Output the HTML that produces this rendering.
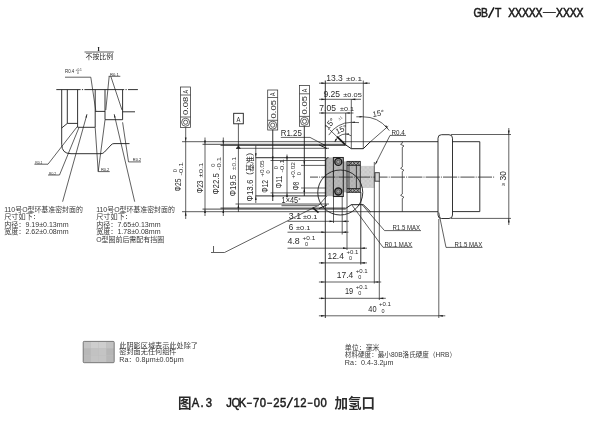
<!DOCTYPE html><html><head><meta charset="utf-8"><title>GB/T</title><style>html,body{margin:0;padding:0;background:#fff;}body{width:600px;height:440px;overflow:hidden;font-family:"Liberation Sans",sans-serif;}svg{display:block;will-change:transform;opacity:0.999;filter:blur(0.3px);}</style></head><body><svg width="600" height="440" viewBox="0 0 600 440"><defs><pattern id="grid" width="4.5" height="4.5" patternUnits="userSpaceOnUse"><rect width="4.5" height="4.5" fill="#b9b9b9"/><rect x="0" y="0" width="2.25" height="2.25" fill="#adadad"/><rect x="2.25" y="2.25" width="2.25" height="2.25" fill="#b1b1b1"/></pattern><pattern id="grid2" width="4.5" height="4.5" patternUnits="userSpaceOnUse"><rect width="4.5" height="4.5" fill="#d2d2d2"/><rect x="0" y="0" width="2.25" height="2.25" fill="#c6c6c6"/><rect x="2.25" y="2.25" width="2.25" height="2.25" fill="#cacaca"/></pattern><pattern id="grid3" width="7.9" height="7.5" patternUnits="userSpaceOnUse"><rect width="7.9" height="7.5" fill="#bdbdbd"/><rect x="0" y="0" width="3.95" height="3.75" fill="#b0b0b0"/><rect x="3.95" y="3.75" width="3.95" height="3.75" fill="#b4b4b4"/></pattern></defs><text transform="translate(477.62 16.7) scale(0.82 1)" text-anchor="middle" font-family="'Liberation Sans', sans-serif" font-size="12.7" font-weight="normal" fill="#1c1c1c" stroke="#1c1c1c" stroke-width="0.6">G</text><text transform="translate(484.44 16.7) scale(0.82 1)" text-anchor="middle" font-family="'Liberation Sans', sans-serif" font-size="12.7" font-weight="normal" fill="#1c1c1c" stroke="#1c1c1c" stroke-width="0.6">B</text><line x1="488.56" y1="17.9" x2="493.99" y2="7.3" stroke="#1c1c1c" stroke-width="1.6"/><text transform="translate(498.1 16.7) scale(0.82 1)" text-anchor="middle" font-family="'Liberation Sans', sans-serif" font-size="12.7" font-weight="normal" fill="#1c1c1c" stroke="#1c1c1c" stroke-width="0.6">T</text><text transform="translate(511.76 16.7) scale(0.82 1)" text-anchor="middle" font-family="'Liberation Sans', sans-serif" font-size="12.7" font-weight="normal" fill="#1c1c1c" stroke="#1c1c1c" stroke-width="0.6">X</text><text transform="translate(518.59 16.7) scale(0.82 1)" text-anchor="middle" font-family="'Liberation Sans', sans-serif" font-size="12.7" font-weight="normal" fill="#1c1c1c" stroke="#1c1c1c" stroke-width="0.6">X</text><text transform="translate(525.42 16.7) scale(0.82 1)" text-anchor="middle" font-family="'Liberation Sans', sans-serif" font-size="12.7" font-weight="normal" fill="#1c1c1c" stroke="#1c1c1c" stroke-width="0.6">X</text><text transform="translate(532.25 16.7) scale(0.82 1)" text-anchor="middle" font-family="'Liberation Sans', sans-serif" font-size="12.7" font-weight="normal" fill="#1c1c1c" stroke="#1c1c1c" stroke-width="0.6">X</text><text transform="translate(539.09 16.7) scale(0.82 1)" text-anchor="middle" font-family="'Liberation Sans', sans-serif" font-size="12.7" font-weight="normal" fill="#1c1c1c" stroke="#1c1c1c" stroke-width="0.6">X</text><line x1="542.8" y1="12.51" x2="555.86" y2="12.51" stroke="#1c1c1c" stroke-width="0.9"/><text transform="translate(559.58 16.7) scale(0.82 1)" text-anchor="middle" font-family="'Liberation Sans', sans-serif" font-size="12.7" font-weight="normal" fill="#1c1c1c" stroke="#1c1c1c" stroke-width="0.6">X</text><text transform="translate(566.41 16.7) scale(0.82 1)" text-anchor="middle" font-family="'Liberation Sans', sans-serif" font-size="12.7" font-weight="normal" fill="#1c1c1c" stroke="#1c1c1c" stroke-width="0.6">X</text><text transform="translate(573.24 16.7) scale(0.82 1)" text-anchor="middle" font-family="'Liberation Sans', sans-serif" font-size="12.7" font-weight="normal" fill="#1c1c1c" stroke="#1c1c1c" stroke-width="0.6">X</text><text transform="translate(580.07 16.7) scale(0.82 1)" text-anchor="middle" font-family="'Liberation Sans', sans-serif" font-size="12.7" font-weight="normal" fill="#1c1c1c" stroke="#1c1c1c" stroke-width="0.6">X</text>
<text x="177.9" y="407.6" font-family="'Liberation Sans', 'Noto Sans CJK SC', sans-serif" font-size="13.5" font-weight="bold" fill="#2a2a2a">图</text>
<text transform="translate(195.38 406.7) scale(0.88 1)" text-anchor="middle" font-family="'Liberation Sans', sans-serif" font-size="12.8" font-weight="normal" fill="#1c1c1c" stroke="#1c1c1c" stroke-width="0.5">A</text><text transform="translate(202.12 406.7) scale(0.88 1)" text-anchor="middle" font-family="'Liberation Sans', sans-serif" font-size="12.8" font-weight="normal" fill="#1c1c1c" stroke="#1c1c1c" stroke-width="0.5">.</text><text transform="translate(208.88 406.7) scale(0.88 1)" text-anchor="middle" font-family="'Liberation Sans', sans-serif" font-size="12.8" font-weight="normal" fill="#1c1c1c" stroke="#1c1c1c" stroke-width="0.5">3</text>
<text transform="translate(229.12 406.7) scale(0.88 1)" text-anchor="middle" font-family="'Liberation Sans', sans-serif" font-size="12.8" font-weight="normal" fill="#1c1c1c" stroke="#1c1c1c" stroke-width="0.5">J</text><text transform="translate(235.88 406.7) scale(0.88 1)" text-anchor="middle" font-family="'Liberation Sans', sans-serif" font-size="12.8" font-weight="normal" fill="#1c1c1c" stroke="#1c1c1c" stroke-width="0.5">Q</text><text transform="translate(242.62 406.7) scale(0.88 1)" text-anchor="middle" font-family="'Liberation Sans', sans-serif" font-size="12.8" font-weight="normal" fill="#1c1c1c" stroke="#1c1c1c" stroke-width="0.5">K</text><line x1="246.9" y1="403.24" x2="251.85" y2="403.24" stroke="#1c1c1c" stroke-width="1.3"/><text transform="translate(256.12 406.7) scale(0.88 1)" text-anchor="middle" font-family="'Liberation Sans', sans-serif" font-size="12.8" font-weight="normal" fill="#1c1c1c" stroke="#1c1c1c" stroke-width="0.5">7</text><text transform="translate(262.88 406.7) scale(0.88 1)" text-anchor="middle" font-family="'Liberation Sans', sans-serif" font-size="12.8" font-weight="normal" fill="#1c1c1c" stroke="#1c1c1c" stroke-width="0.5">0</text><line x1="267.15" y1="403.24" x2="272.1" y2="403.24" stroke="#1c1c1c" stroke-width="1.3"/><text transform="translate(276.38 406.7) scale(0.88 1)" text-anchor="middle" font-family="'Liberation Sans', sans-serif" font-size="12.8" font-weight="normal" fill="#1c1c1c" stroke="#1c1c1c" stroke-width="0.5">2</text><text transform="translate(283.12 406.7) scale(0.88 1)" text-anchor="middle" font-family="'Liberation Sans', sans-serif" font-size="12.8" font-weight="normal" fill="#1c1c1c" stroke="#1c1c1c" stroke-width="0.5">5</text><line x1="287.2" y1="407.9" x2="292.55" y2="397.23" stroke="#1c1c1c" stroke-width="1.5"/><text transform="translate(296.62 406.7) scale(0.88 1)" text-anchor="middle" font-family="'Liberation Sans', sans-serif" font-size="12.8" font-weight="normal" fill="#1c1c1c" stroke="#1c1c1c" stroke-width="0.5">1</text><text transform="translate(303.38 406.7) scale(0.88 1)" text-anchor="middle" font-family="'Liberation Sans', sans-serif" font-size="12.8" font-weight="normal" fill="#1c1c1c" stroke="#1c1c1c" stroke-width="0.5">2</text><line x1="307.65" y1="403.24" x2="312.6" y2="403.24" stroke="#1c1c1c" stroke-width="1.3"/><text transform="translate(316.88 406.7) scale(0.88 1)" text-anchor="middle" font-family="'Liberation Sans', sans-serif" font-size="12.8" font-weight="normal" fill="#1c1c1c" stroke="#1c1c1c" stroke-width="0.5">0</text><text transform="translate(323.62 406.7) scale(0.88 1)" text-anchor="middle" font-family="'Liberation Sans', sans-serif" font-size="12.8" font-weight="normal" fill="#1c1c1c" stroke="#1c1c1c" stroke-width="0.5">0</text>
<text x="334.55" y="407.6" font-family="'Liberation Sans', 'Noto Sans CJK SC', sans-serif" font-size="13.5" font-weight="bold" fill="#2a2a2a" textLength="40.5" lengthAdjust="spacingAndGlyphs">加氢口</text>
<text x="97.2" y="51.3" font-family="'Liberation Serif', sans-serif" font-size="6.8" font-weight="bold" fill="#1c1c1c" xml:space="preserve">I</text>
<line x1="84.5" y1="52" x2="113.75" y2="52" stroke="#1c1c1c" stroke-width="0.7"/>
<text x="85.5" y="59.3" font-family="'Liberation Sans', 'Noto Sans CJK SC', sans-serif" font-size="6.9" fill="#2a2a2a" textLength="27.6" lengthAdjust="spacingAndGlyphs">不按比例</text>
<line x1="56.3" y1="89.6" x2="80.6" y2="89.6" stroke="#1c1c1c" stroke-width="0.9"/>
<line x1="81.9" y1="89.6" x2="83.1" y2="89.6" stroke="#1c1c1c" stroke-width="0.9"/>
<line x1="84.4" y1="89.6" x2="124.2" y2="89.6" stroke="#1c1c1c" stroke-width="0.9"/>
<line x1="125.5" y1="89.6" x2="126.7" y2="89.6" stroke="#1c1c1c" stroke-width="0.9"/>
<line x1="128" y1="89.6" x2="137.9" y2="89.6" stroke="#1c1c1c" stroke-width="0.9"/>
<line x1="61.7" y1="89.7" x2="61.7" y2="144.3" stroke="#1c1c1c" stroke-width="0.9"/>
<path d="M61.7 144.3 Q61.7 153.7 71 153.7 L101 153.7 Q103 153.7 104.5 152 L111 145 Q112.3 143.6 114 143.6 L129.5 143.6" fill="none" stroke="#1c1c1c" stroke-width="0.9"/>
<line x1="67.3" y1="89.7" x2="67.3" y2="123.4" stroke="#1c1c1c" stroke-width="0.9"/>
<line x1="67.3" y1="123.4" x2="77.6" y2="123.4" stroke="#1c1c1c" stroke-width="0.9"/>
<line x1="61.7" y1="128" x2="67.3" y2="123.4" stroke="#1c1c1c" stroke-width="0.9"/>
<line x1="77.6" y1="89.7" x2="77.6" y2="127.3" stroke="#1c1c1c" stroke-width="0.9"/>
<line x1="77.6" y1="127.3" x2="95.2" y2="127.3" stroke="#1c1c1c" stroke-width="0.9"/>
<line x1="95.2" y1="89.7" x2="95.2" y2="127.3" stroke="#1c1c1c" stroke-width="0.9"/>
<line x1="95.2" y1="111.4" x2="105" y2="111.4" stroke="#1c1c1c" stroke-width="0.9"/>
<line x1="105" y1="89.7" x2="105" y2="119.7" stroke="#1c1c1c" stroke-width="0.9"/>
<line x1="105" y1="119.7" x2="122.6" y2="119.7" stroke="#1c1c1c" stroke-width="0.9"/>
<line x1="122.6" y1="89.7" x2="122.6" y2="119.7" stroke="#1c1c1c" stroke-width="0.9"/>
<line x1="122.6" y1="111.8" x2="135" y2="111.8" stroke="#1c1c1c" stroke-width="0.9"/>
<text x="65" y="73.3" font-family="'Liberation Sans', sans-serif" font-size="4.6" fill="#2a2a2a" textLength="9.3" lengthAdjust="spacingAndGlyphs">R0.4</text>
<text x="75.5" y="71.3" font-family="'Liberation Sans', sans-serif" font-size="3.2" fill="#2a2a2a" textLength="6.4" lengthAdjust="spacingAndGlyphs">+0.1</text>
<text x="77" y="74.2" font-family="'Liberation Sans', sans-serif" font-size="3.2" fill="#2a2a2a">0</text>
<line x1="65" y1="77.2" x2="90.8" y2="77.2" stroke="#1c1c1c" stroke-width="0.7"/>
<line x1="90.8" y1="77.2" x2="95.8" y2="110.8" stroke="#1c1c1c" stroke-width="0.7"/>
<text x="110" y="75.8" font-family="'Liberation Sans', sans-serif" font-size="4.4" fill="#2a2a2a" textLength="8.8" lengthAdjust="spacingAndGlyphs">R0.1</text>
<line x1="108.7" y1="76.3" x2="120.3" y2="76.3" stroke="#1c1c1c" stroke-width="0.7"/>
<line x1="109.2" y1="76.3" x2="105.8" y2="110" stroke="#1c1c1c" stroke-width="0.7"/>
<line x1="110.8" y1="76.3" x2="122" y2="110" stroke="#1c1c1c" stroke-width="0.7"/>
<line x1="62.6" y1="201.7" x2="87" y2="114.2" stroke="#1c1c1c" stroke-width="0.7"/>
<path d="M87 114.2 L86.71 117.65 L85.46 117.3 Z" fill="#1c1c1c"/>
<line x1="134.7" y1="201.7" x2="114.2" y2="114.2" stroke="#1c1c1c" stroke-width="0.7"/>
<path d="M114.2 114.2 L115.61 117.36 L114.34 117.66 Z" fill="#1c1c1c"/>
<text x="35.3" y="163.7" font-family="'Liberation Sans', sans-serif" font-size="3.6" fill="#2a2a2a" textLength="7.2" lengthAdjust="spacingAndGlyphs">R0.1</text>
<line x1="34.4" y1="164.2" x2="48" y2="164.2" stroke="#1c1c1c" stroke-width="0.7"/>
<line x1="48" y1="164.2" x2="77.3" y2="126.5" stroke="#1c1c1c" stroke-width="0.7"/>
<text x="49" y="174.6" font-family="'Liberation Sans', sans-serif" font-size="3.6" fill="#2a2a2a" textLength="7.2" lengthAdjust="spacingAndGlyphs">R0.2</text>
<line x1="48" y1="175" x2="59.5" y2="175" stroke="#1c1c1c" stroke-width="0.7"/>
<line x1="59.5" y1="175" x2="79" y2="127.5" stroke="#1c1c1c" stroke-width="0.7"/>
<text x="100.9" y="171.2" font-family="'Liberation Sans', sans-serif" font-size="4.2" fill="#2a2a2a" textLength="8.4" lengthAdjust="spacingAndGlyphs">R0.2</text>
<line x1="98.2" y1="171.6" x2="109.7" y2="171.6" stroke="#1c1c1c" stroke-width="0.7"/>
<line x1="98.2" y1="171.6" x2="95.2" y2="127.5" stroke="#1c1c1c" stroke-width="0.7"/>
<line x1="98.2" y1="171.6" x2="105" y2="120" stroke="#1c1c1c" stroke-width="0.7"/>
<text x="132.8" y="161.4" font-family="'Liberation Sans', sans-serif" font-size="4.2" fill="#2a2a2a" textLength="8.4" lengthAdjust="spacingAndGlyphs">R0.2</text>
<line x1="128.5" y1="161.9" x2="141" y2="161.9" stroke="#1c1c1c" stroke-width="0.7"/>
<line x1="128.5" y1="161.9" x2="122.6" y2="122.3" stroke="#1c1c1c" stroke-width="0.7"/>
<text x="4.2" y="212.1" font-family="'Liberation Sans', 'Noto Sans CJK SC', sans-serif" font-size="7.15" fill="#383838" textLength="78.65" lengthAdjust="spacingAndGlyphs">110号O型环基准密封面的</text>
<text x="4.2" y="219.45" font-family="'Liberation Sans', 'Noto Sans CJK SC', sans-serif" font-size="7.15" fill="#383838" textLength="35.75" lengthAdjust="spacingAndGlyphs">尺寸如下：</text>
<text x="4.2" y="226.8" font-family="'Liberation Sans', 'Noto Sans CJK SC', sans-serif" font-size="7.15" fill="#383838" textLength="64.35" lengthAdjust="spacingAndGlyphs">内径：9.19±0.13mm</text>
<text x="4.2" y="234.15" font-family="'Liberation Sans', 'Noto Sans CJK SC', sans-serif" font-size="7.15" fill="#383838" textLength="64.35" lengthAdjust="spacingAndGlyphs">宽度：2.62±0.08mm</text>
<text x="96.2" y="212.1" font-family="'Liberation Sans', 'Noto Sans CJK SC', sans-serif" font-size="7.15" fill="#383838" textLength="78.65" lengthAdjust="spacingAndGlyphs">110号O型环基准密封面的</text>
<text x="96.2" y="219.45" font-family="'Liberation Sans', 'Noto Sans CJK SC', sans-serif" font-size="7.15" fill="#383838" textLength="35.75" lengthAdjust="spacingAndGlyphs">尺寸如下：</text>
<text x="96.2" y="226.8" font-family="'Liberation Sans', 'Noto Sans CJK SC', sans-serif" font-size="7.15" fill="#383838" textLength="64.35" lengthAdjust="spacingAndGlyphs">内径：7.65±0.13mm</text>
<text x="96.2" y="234.15" font-family="'Liberation Sans', 'Noto Sans CJK SC', sans-serif" font-size="7.15" fill="#383838" textLength="64.35" lengthAdjust="spacingAndGlyphs">宽度：1.78±0.08mm</text>
<text x="96.2" y="241.5" font-family="'Liberation Sans', 'Noto Sans CJK SC', sans-serif" font-size="7.15" fill="#383838" textLength="67.9" lengthAdjust="spacingAndGlyphs">O型圈前后需配有挡圈</text>
<rect x="83.2" y="341.4" width="31" height="21.3" rx="0" fill="#bebebe" stroke="none" stroke-width="0"/>
<rect x="83.2" y="341.4" width="7.5" height="6.9" rx="0" fill="#c4c4c4" stroke="none" stroke-width="0"/>
<rect x="83.2" y="348.5" width="7.5" height="6.9" rx="0" fill="#b8b8b8" stroke="none" stroke-width="0"/>
<rect x="83.2" y="355.6" width="7.5" height="6.9" rx="0" fill="#bababa" stroke="none" stroke-width="0"/>
<rect x="90.95" y="341.4" width="7.5" height="6.9" rx="0" fill="#cecece" stroke="none" stroke-width="0"/>
<rect x="90.95" y="348.5" width="7.5" height="6.9" rx="0" fill="#c2c2c2" stroke="none" stroke-width="0"/>
<rect x="90.95" y="355.6" width="7.5" height="6.9" rx="0" fill="#c4c4c4" stroke="none" stroke-width="0"/>
<rect x="98.7" y="341.4" width="7.5" height="6.9" rx="0" fill="#cecece" stroke="none" stroke-width="0"/>
<rect x="98.7" y="348.5" width="7.5" height="6.9" rx="0" fill="#c4c4c4" stroke="none" stroke-width="0"/>
<rect x="98.7" y="355.6" width="7.5" height="6.9" rx="0" fill="#c4c4c4" stroke="none" stroke-width="0"/>
<rect x="106.45" y="341.4" width="7.5" height="6.9" rx="0" fill="#c2c2c2" stroke="none" stroke-width="0"/>
<rect x="106.45" y="348.5" width="7.5" height="6.9" rx="0" fill="#b6b6b6" stroke="none" stroke-width="0"/>
<rect x="106.45" y="355.6" width="7.5" height="6.9" rx="0" fill="#b8b8b8" stroke="none" stroke-width="0"/>
<rect x="83.2" y="341.4" width="31" height="21.3" rx="1" fill="none" stroke="#707070" stroke-width="0.9"/>
<text x="119.3" y="347.6" font-family="'Liberation Sans', 'Noto Sans CJK SC', sans-serif" font-size="7.15" fill="#383838" textLength="78.65" lengthAdjust="spacingAndGlyphs">此阴影区域表示此处除了</text>
<text x="119.3" y="353.8" font-family="'Liberation Sans', 'Noto Sans CJK SC', sans-serif" font-size="7.15" fill="#383838" textLength="57.2" lengthAdjust="spacingAndGlyphs">密封面无任何组件</text>
<text x="119.3" y="361.7" font-family="'Liberation Sans', 'Noto Sans CJK SC', sans-serif" font-size="7.15" fill="#383838" textLength="64.35" lengthAdjust="spacingAndGlyphs">Ra：0.8μm±0.05μm</text>
<text x="344.8" y="350.3" font-family="'Liberation Sans', 'Noto Sans CJK SC', sans-serif" font-size="6.95" fill="#383838" textLength="34.75" lengthAdjust="spacingAndGlyphs">单位：毫米</text>
<text x="344.8" y="356.7" font-family="'Liberation Sans', 'Noto Sans CJK SC', sans-serif" font-size="6.95" fill="#383838" textLength="111.2" lengthAdjust="spacingAndGlyphs">材料硬度：最小80B洛氏硬度（HRB）</text>
<text x="344.8" y="364.8" font-family="'Liberation Sans', 'Noto Sans CJK SC', sans-serif" font-size="6.95" fill="#383838" textLength="48.65" lengthAdjust="spacingAndGlyphs">Ra：0.4-3.2μm</text>
<rect x="326.3" y="157.4" width="17" height="38.8" rx="0" fill="url(#grid)" stroke="none" stroke-width="0"/>
<rect x="343.3" y="161.4" width="17.2" height="30.9" rx="0" fill="url(#grid)" stroke="none" stroke-width="0"/>
<rect x="360.4" y="165.9" width="13.9" height="22.1" rx="0" fill="url(#grid2)" stroke="none" stroke-width="0"/>
<line x1="182" y1="141.7" x2="371" y2="141.7" stroke="#5c5c5c" stroke-width="1.0"/>
<line x1="182" y1="211.7" x2="371" y2="211.7" stroke="#5c5c5c" stroke-width="1.0"/>
<line x1="370.5" y1="141.7" x2="438" y2="141.7" stroke="#1c1c1c" stroke-width="0.9"/>
<line x1="370.5" y1="211.7" x2="438" y2="211.7" stroke="#1c1c1c" stroke-width="0.9"/>
<line x1="202.5" y1="144.3" x2="345.7" y2="144.3" stroke="#1c1c1c" stroke-width="0.8"/>
<line x1="202.5" y1="209.1" x2="345.7" y2="209.1" stroke="#1c1c1c" stroke-width="0.8"/>
<line x1="220.5" y1="145.3" x2="345.7" y2="145.3" stroke="#1c1c1c" stroke-width="0.9"/>
<line x1="220.5" y1="208.1" x2="345.7" y2="208.1" stroke="#1c1c1c" stroke-width="0.9"/>
<line x1="236" y1="148.3" x2="329" y2="148.3" stroke="#1c1c1c" stroke-width="0.7"/>
<line x1="235.5" y1="204" x2="329" y2="204" stroke="#1c1c1c" stroke-width="0.7"/>
<line x1="255.5" y1="157.6" x2="326" y2="157.6" stroke="#555" stroke-width="1.3"/>
<line x1="255.5" y1="195.8" x2="326" y2="195.8" stroke="#555" stroke-width="1.3"/>
<line x1="270.5" y1="160.5" x2="326" y2="160.5" stroke="#1c1c1c" stroke-width="0.7"/>
<line x1="270.5" y1="192.9" x2="326" y2="192.9" stroke="#1c1c1c" stroke-width="0.7"/>
<line x1="301" y1="165.4" x2="326" y2="165.4" stroke="#1c1c1c" stroke-width="0.7"/>
<line x1="301" y1="188" x2="326" y2="188" stroke="#1c1c1c" stroke-width="0.7"/>
<path d="M345.7 144.9 L351.3 148.7 L363.3 148.7 L370.5 141.6" fill="none" stroke="#1c1c1c" stroke-width="1.0"/>
<path d="M319 144.9 L327 148.5" fill="none" stroke="#1c1c1c" stroke-width="1.0"/>
<path d="M345.7 208.5 L351.3 204.7 L363.3 204.7 L370.5 211.8" fill="none" stroke="#1c1c1c" stroke-width="1.0"/>
<path d="M319 208.5 L327 204.9" fill="none" stroke="#1c1c1c" stroke-width="1.0"/>
<line x1="325.3" y1="80.5" x2="325.3" y2="318" stroke="#1c1c1c" stroke-width="0.9"/>
<path d="M402.3 141.7 L402.3 143.2 L400.6 144.3 L404 146 L402.3 147.2 L402.3 167 L400.6 168.3 L404 170.3 L402.3 171.5 L402.3 194 L400.6 195.3 L404 197.3 L402.3 198.5 L402.3 211.7" fill="none" stroke="#1c1c1c" stroke-width="0.7"/>
<path d="M438 138.2 Q438 134.7 441.5 134.7 L449 134.7 Q452.5 134.7 452.5 138.2 L452.5 215 Q452.5 218.5 449 218.5 L441.5 218.5 Q438 218.5 438 215 Z" fill="none" stroke="#1c1c1c" stroke-width="0.9"/>
<path d="M452.5 141.7 L479.8 141.7 L479.8 211.6 L452.5 211.6" fill="none" stroke="#1c1c1c" stroke-width="0.9"/>
<line x1="310" y1="177.1" x2="318" y2="177.1" stroke="#333" stroke-width="0.9"/>
<line x1="319.1" y1="177.1" x2="320.1" y2="177.1" stroke="#333" stroke-width="0.9"/>
<line x1="321.2" y1="177.1" x2="335.4" y2="177.1" stroke="#333" stroke-width="0.9"/>
<line x1="336.5" y1="177.1" x2="337.5" y2="177.1" stroke="#333" stroke-width="0.9"/>
<line x1="338.6" y1="177.1" x2="352.8" y2="177.1" stroke="#333" stroke-width="0.9"/>
<line x1="353.9" y1="177.1" x2="354.9" y2="177.1" stroke="#333" stroke-width="0.9"/>
<line x1="356" y1="177.1" x2="370.2" y2="177.1" stroke="#333" stroke-width="0.9"/>
<line x1="371.3" y1="177.1" x2="372.3" y2="177.1" stroke="#333" stroke-width="0.9"/>
<line x1="373.4" y1="177.1" x2="387.6" y2="177.1" stroke="#333" stroke-width="0.9"/>
<line x1="388.7" y1="177.1" x2="389.7" y2="177.1" stroke="#333" stroke-width="0.9"/>
<line x1="390.8" y1="177.1" x2="405" y2="177.1" stroke="#333" stroke-width="0.9"/>
<line x1="406.1" y1="177.1" x2="407.1" y2="177.1" stroke="#333" stroke-width="0.9"/>
<line x1="408.2" y1="177.1" x2="422.4" y2="177.1" stroke="#333" stroke-width="0.9"/>
<line x1="423.5" y1="177.1" x2="424.5" y2="177.1" stroke="#333" stroke-width="0.9"/>
<line x1="425.6" y1="177.1" x2="439.8" y2="177.1" stroke="#333" stroke-width="0.9"/>
<line x1="440.9" y1="177.1" x2="441.9" y2="177.1" stroke="#333" stroke-width="0.9"/>
<line x1="443" y1="177.1" x2="457.2" y2="177.1" stroke="#333" stroke-width="0.9"/>
<line x1="458.3" y1="177.1" x2="459.3" y2="177.1" stroke="#333" stroke-width="0.9"/>
<line x1="460.4" y1="177.1" x2="474.6" y2="177.1" stroke="#333" stroke-width="0.9"/>
<line x1="475.7" y1="177.1" x2="476.7" y2="177.1" stroke="#333" stroke-width="0.9"/>
<line x1="477.8" y1="177.1" x2="492" y2="177.1" stroke="#333" stroke-width="0.9"/>
<line x1="493.1" y1="177.1" x2="494.1" y2="177.1" stroke="#333" stroke-width="0.9"/>
<line x1="451" y1="134.5" x2="511" y2="134.5" stroke="#1c1c1c" stroke-width="0.7"/>
<line x1="451" y1="218.4" x2="511" y2="218.4" stroke="#1c1c1c" stroke-width="0.7"/>
<line x1="508.8" y1="128" x2="508.8" y2="225" stroke="#1c1c1c" stroke-width="0.7"/>
<path d="M508.8 134.5 L507.95 130.5 L509.65 130.5 Z" fill="#1c1c1c"/>
<path d="M508.8 218.4 L509.65 222.4 L507.95 222.4 Z" fill="#1c1c1c"/>
<text transform="translate(505.3 185.8) rotate(-90)" font-family="'Liberation Sans', 'Noto Sans CJK SC', sans-serif" font-size="5.4" fill="#2a2a2a">≥</text>
<text transform="translate(505.6 180.4) rotate(-90)" font-family="'Liberation Sans', sans-serif" font-size="8.2" fill="#2a2a2a" textLength="9.4" lengthAdjust="spacingAndGlyphs">30</text>
<path d="M325.8 196 L325.8 160 Q325.8 157.6 328.5 157.6" fill="none" stroke="#1c1c1c" stroke-width="1.0"/>
<rect x="333.4" y="157.5" width="9.9" height="39" rx="0" fill="none" stroke="#262626" stroke-width="1.05"/>
<circle cx="338.3" cy="161.9" r="3.5" fill="#8e8e8e" stroke="#1c1c1c" stroke-width="1.4"/>
<circle cx="338.3" cy="161.9" r="1.7" fill="#a4a4a4" stroke="#3a3a3a" stroke-width="0.6"/>
<circle cx="338.3" cy="191.5" r="3.5" fill="#8e8e8e" stroke="#1c1c1c" stroke-width="1.4"/>
<circle cx="338.3" cy="191.5" r="1.7" fill="#a4a4a4" stroke="#3a3a3a" stroke-width="0.6"/>
<rect x="347" y="161.4" width="13.3" height="30.9" rx="0" fill="none" stroke="#2a2a2a" stroke-width="0.9"/>
<line x1="349" y1="161.4" x2="349" y2="192.3" stroke="#1c1c1c" stroke-width="0.7"/>
<line x1="356.4" y1="165.3" x2="356.4" y2="188.6" stroke="#1c1c1c" stroke-width="0.8"/>
<line x1="347" y1="165.3" x2="360.3" y2="165.3" stroke="#1c1c1c" stroke-width="0.9"/>
<line x1="347" y1="188.6" x2="360.3" y2="188.6" stroke="#1c1c1c" stroke-width="0.9"/>
<path d="M349 161.4 L352.5 165.2 L356 161.4 L359.5 165.2" fill="none" stroke="#1c1c1c" stroke-width="0.7"/>
<path d="M349 165.2 L352.5 161.4 L356 165.2 L359.5 161.4" fill="none" stroke="#1c1c1c" stroke-width="0.7"/>
<path d="M349 188.6 L352.5 192.4 L356 188.6 L359.5 192.4" fill="none" stroke="#1c1c1c" stroke-width="0.7"/>
<path d="M349 192.4 L352.5 188.6 L356 192.4 L359.5 188.6" fill="none" stroke="#1c1c1c" stroke-width="0.7"/>
<rect x="375" y="172.7" width="4.3" height="8.5" rx="0" fill="#d4d4d4" stroke="#333" stroke-width="0.9"/>
<line x1="374.3" y1="162" x2="374.3" y2="192" stroke="#1c1c1c" stroke-width="0.7"/>
<circle cx="340.25" cy="192.5" r="22.5" fill="none" stroke="#1c1c1c" stroke-width="0.9"/>
<path d="M211 252.5 L224.5 252.5 L319 205 L327 195.8" fill="none" stroke="#1c1c1c" stroke-width="0.7"/>
<line x1="312.6" y1="207.6" x2="318.5" y2="212.6" stroke="#1c1c1c" stroke-width="1.5"/>
<text x="212.6" y="251.8" font-family="'Liberation Sans', sans-serif" font-size="8.2" fill="#2a2a2a">I</text>
<rect x="180.6" y="87" width="10" height="40.5" rx="0" fill="none" stroke="#333" stroke-width="0.75"/>
<line x1="180.6" y1="95" x2="190.6" y2="95" stroke="#333" stroke-width="0.75"/>
<line x1="180.6" y1="117" x2="190.6" y2="117" stroke="#333" stroke-width="0.75"/>
<circle cx="185.6" cy="122.25" r="4" fill="none" stroke="#333" stroke-width="0.75"/>
<circle cx="185.6" cy="122.25" r="2.1" fill="none" stroke="#333" stroke-width="0.75"/>
<text transform="translate(188.4 115.1) rotate(-90)" font-family="'Liberation Sans', sans-serif" font-size="8" fill="#2a2a2a" textLength="18.4" lengthAdjust="spacingAndGlyphs">0.08</text>
<text transform="translate(188.2 93.4) rotate(-90)" font-family="'Liberation Sans', sans-serif" font-size="7.2" fill="#2a2a2a" textLength="3.5" lengthAdjust="spacingAndGlyphs">A</text>
<rect x="267.7" y="90" width="10" height="40" rx="0" fill="none" stroke="#333" stroke-width="0.75"/>
<line x1="267.7" y1="97.5" x2="277.7" y2="97.5" stroke="#333" stroke-width="0.75"/>
<line x1="267.7" y1="120.3" x2="277.7" y2="120.3" stroke="#333" stroke-width="0.75"/>
<circle cx="272.7" cy="125.15" r="4" fill="none" stroke="#333" stroke-width="0.75"/>
<circle cx="272.7" cy="125.15" r="2.1" fill="none" stroke="#333" stroke-width="0.75"/>
<text transform="translate(275.5 118.4) rotate(-90)" font-family="'Liberation Sans', sans-serif" font-size="8" fill="#2a2a2a" textLength="18.4" lengthAdjust="spacingAndGlyphs">0.05</text>
<text transform="translate(275.3 95.9) rotate(-90)" font-family="'Liberation Sans', sans-serif" font-size="7.2" fill="#2a2a2a" textLength="3.5" lengthAdjust="spacingAndGlyphs">A</text>
<rect x="299.5" y="85.5" width="10" height="40.8" rx="0" fill="none" stroke="#333" stroke-width="0.75"/>
<line x1="299.5" y1="93.8" x2="309.5" y2="93.8" stroke="#333" stroke-width="0.75"/>
<line x1="299.5" y1="116.4" x2="309.5" y2="116.4" stroke="#333" stroke-width="0.75"/>
<circle cx="304.5" cy="121.35" r="4" fill="none" stroke="#333" stroke-width="0.75"/>
<circle cx="304.5" cy="121.35" r="2.1" fill="none" stroke="#333" stroke-width="0.75"/>
<text transform="translate(307.3 114.5) rotate(-90)" font-family="'Liberation Sans', sans-serif" font-size="8" fill="#2a2a2a" textLength="18.4" lengthAdjust="spacingAndGlyphs">0.05</text>
<text transform="translate(307.1 92.2) rotate(-90)" font-family="'Liberation Sans', sans-serif" font-size="7.2" fill="#2a2a2a" textLength="3.5" lengthAdjust="spacingAndGlyphs">A</text>
<rect x="233.7" y="113.3" width="9.6" height="10.5" rx="0" fill="none" stroke="#1c1c1c" stroke-width="0.9"/>
<text x="236.4" y="121.6" font-family="'Liberation Sans', sans-serif" font-size="8" fill="#2a2a2a" textLength="3.9" lengthAdjust="spacingAndGlyphs">A</text>
<line x1="238.4" y1="123.8" x2="238.4" y2="146.5" stroke="#1c1c1c" stroke-width="0.7"/>
<path d="M238.4 145.7 L236.4 148.5 L240.4 148.5 Z" fill="#1c1c1c" stroke="#1c1c1c" stroke-width="0.5"/>
<line x1="185.7" y1="127.5" x2="185.7" y2="219" stroke="#1c1c1c" stroke-width="0.7"/>
<path d="M185.7 141.6 L184.85 137.6 L186.55 137.6 Z" fill="#1c1c1c"/>
<path d="M185.7 211.8 L186.55 215.8 L184.85 215.8 Z" fill="#1c1c1c"/>
<line x1="205" y1="137.5" x2="205" y2="216" stroke="#1c1c1c" stroke-width="0.7"/>
<path d="M205 144.4 L204.15 140.4 L205.85 140.4 Z" fill="#1c1c1c"/>
<path d="M205 209 L205.85 213 L204.15 213 Z" fill="#1c1c1c"/>
<line x1="223.3" y1="137.5" x2="223.3" y2="216" stroke="#1c1c1c" stroke-width="0.7"/>
<path d="M223.3 144.4 L222.45 140.4 L224.15 140.4 Z" fill="#1c1c1c"/>
<path d="M223.3 209 L224.15 213 L222.45 213 Z" fill="#1c1c1c"/>
<line x1="238.4" y1="148.5" x2="238.4" y2="212" stroke="#1c1c1c" stroke-width="0.7"/>
<path d="M238.4 204 L239.25 208 L237.55 208 Z" fill="#1c1c1c"/>
<line x1="255.8" y1="145.5" x2="255.8" y2="203" stroke="#1c1c1c" stroke-width="0.7"/>
<path d="M255.8 157.3 L254.95 153.3 L256.65 153.3 Z" fill="#1c1c1c"/>
<path d="M255.8 196.1 L256.65 200.1 L254.95 200.1 Z" fill="#1c1c1c"/>
<line x1="272.75" y1="130" x2="272.75" y2="201" stroke="#1c1c1c" stroke-width="0.9"/>
<path d="M272.75 160.4 L271.9 156.4 L273.6 156.4 Z" fill="#1c1c1c"/>
<path d="M272.75 193 L273.6 197 L271.9 197 Z" fill="#1c1c1c"/>
<line x1="287" y1="154.5" x2="287" y2="197.5" stroke="#1c1c1c" stroke-width="0.7"/>
<path d="M287 160.4 L286.15 156.4 L287.85 156.4 Z" fill="#1c1c1c"/>
<path d="M287 193 L287.85 197 L286.15 197 Z" fill="#1c1c1c"/>
<line x1="304.3" y1="126.3" x2="304.3" y2="196" stroke="#1c1c1c" stroke-width="0.9"/>
<path d="M304.3 165.3 L303.45 161.3 L305.15 161.3 Z" fill="#1c1c1c"/>
<path d="M304.3 188.1 L305.15 192.1 L303.45 192.1 Z" fill="#1c1c1c"/>
<text transform="translate(181 191.4) rotate(-90)" font-family="'Liberation Sans', sans-serif" font-size="8.2" fill="#2a2a2a" textLength="12.8" lengthAdjust="spacingAndGlyphs">Φ25</text>
<text transform="translate(177 172.15) rotate(-90)" font-family="'Liberation Sans', sans-serif" font-size="5.6" fill="#2a2a2a">0</text>
<text transform="translate(183.3 175.45) rotate(-90)" font-family="'Liberation Sans', sans-serif" font-size="5.6" fill="#2a2a2a" textLength="13.2" lengthAdjust="spacingAndGlyphs">-0.1</text>
<text transform="translate(203 193.2) rotate(-90)" font-family="'Liberation Sans', sans-serif" font-size="8.2" fill="#2a2a2a" textLength="12.8" lengthAdjust="spacingAndGlyphs">Φ23</text>
<text transform="translate(202.6 177.6) rotate(-90)" font-family="'Liberation Sans', sans-serif" font-size="5.8" fill="#2a2a2a" textLength="15" lengthAdjust="spacingAndGlyphs">±0.1</text>
<text transform="translate(218.7 194.6) rotate(-90)" font-family="'Liberation Sans', sans-serif" font-size="8.2" fill="#2a2a2a" textLength="21.3" lengthAdjust="spacingAndGlyphs">Φ22.5</text>
<text transform="translate(214.7 166.85) rotate(-90)" font-family="'Liberation Sans', sans-serif" font-size="5.6" fill="#2a2a2a">0</text>
<text transform="translate(221 170.15) rotate(-90)" font-family="'Liberation Sans', sans-serif" font-size="5.6" fill="#2a2a2a" textLength="13.2" lengthAdjust="spacingAndGlyphs">-0.1</text>
<text transform="translate(236 196.2) rotate(-90)" font-family="'Liberation Sans', sans-serif" font-size="8.2" fill="#2a2a2a" textLength="21.3" lengthAdjust="spacingAndGlyphs">Φ19.5</text>
<text transform="translate(235.6 170.2) rotate(-90)" font-family="'Liberation Sans', sans-serif" font-size="5.8" fill="#2a2a2a" textLength="13.2" lengthAdjust="spacingAndGlyphs">±0.1</text>
<text transform="translate(253.2 201.4) rotate(-90)" font-family="'Liberation Sans', 'Noto Sans CJK SC', sans-serif" font-size="8.2" fill="#2a2a2a" textLength="53.3" lengthAdjust="spacingAndGlyphs">Φ13.6（基准）</text>
<text transform="translate(267.5 192.8) rotate(-90)" font-family="'Liberation Sans', sans-serif" font-size="8.2" fill="#2a2a2a" textLength="12.8" lengthAdjust="spacingAndGlyphs">Φ12</text>
<text transform="translate(263.5 176.85) rotate(-90)" font-family="'Liberation Sans', sans-serif" font-size="5.6" fill="#2a2a2a" textLength="16.5" lengthAdjust="spacingAndGlyphs">+0.05</text>
<text transform="translate(269.8 173.55) rotate(-90)" font-family="'Liberation Sans', sans-serif" font-size="5.6" fill="#2a2a2a">0</text>
<text transform="translate(282 188.4) rotate(-90)" font-family="'Liberation Sans', sans-serif" font-size="8.2" fill="#2a2a2a" textLength="12.8" lengthAdjust="spacingAndGlyphs">Φ11</text>
<text transform="translate(278 169.15) rotate(-90)" font-family="'Liberation Sans', sans-serif" font-size="5.6" fill="#2a2a2a">0</text>
<text transform="translate(284.3 172.45) rotate(-90)" font-family="'Liberation Sans', sans-serif" font-size="5.6" fill="#2a2a2a" textLength="13.2" lengthAdjust="spacingAndGlyphs">-0.1</text>
<text transform="translate(299 190.3) rotate(-90)" font-family="'Liberation Sans', sans-serif" font-size="8.2" fill="#2a2a2a" textLength="8.5" lengthAdjust="spacingAndGlyphs">Φ8</text>
<text transform="translate(295 178.6) rotate(-90)" font-family="'Liberation Sans', sans-serif" font-size="5.6" fill="#2a2a2a" textLength="16.5" lengthAdjust="spacingAndGlyphs">+0.02</text>
<text transform="translate(301.3 175.3) rotate(-90)" font-family="'Liberation Sans', sans-serif" font-size="5.6" fill="#2a2a2a">0</text>
<text x="281.6" y="203.2" font-family="'Liberation Sans', sans-serif" font-size="8.2" fill="#2a2a2a" textLength="16.4" lengthAdjust="spacingAndGlyphs">1×45</text>
<line x1="281.5" y1="205.5" x2="319" y2="205.5" stroke="#7a7a7a" stroke-width="1.3"/>
<text x="298.2" y="201.5" font-family="'Liberation Sans', sans-serif" font-size="6" fill="#2a2a2a">°</text>
<text x="280.8" y="135.6" font-family="'Liberation Sans', sans-serif" font-size="8.4" fill="#2a2a2a" textLength="21" lengthAdjust="spacingAndGlyphs">R1.25</text>
<path d="M280.8 137.4 L310 137.4 L325.5 145.6" fill="none" stroke="#1c1c1c" stroke-width="0.7"/>
<path d="M326.5 146.2 L323.17 145.22 L323.83 143.99 Z" fill="#1c1c1c"/>
<line x1="319" y1="83.2" x2="370" y2="83.2" stroke="#1c1c1c" stroke-width="0.7"/>
<path d="M325.3 83.2 L321.3 84.05 L321.3 82.35 Z" fill="#1c1c1c"/>
<path d="M363.3 83.2 L367.3 82.35 L367.3 84.05 Z" fill="#1c1c1c"/>
<text x="326.2" y="81.2" font-family="'Liberation Sans', sans-serif" font-size="8.3" fill="#2a2a2a" textLength="16.6" lengthAdjust="spacingAndGlyphs">13.3</text>
<text x="346" y="81" font-family="'Liberation Sans', sans-serif" font-size="5.6" fill="#2a2a2a" textLength="16" lengthAdjust="spacingAndGlyphs">±0.1</text>
<line x1="319" y1="99.3" x2="361" y2="99.3" stroke="#1c1c1c" stroke-width="0.7"/>
<path d="M325.3 99.3 L321.3 100.15 L321.3 98.45 Z" fill="#1c1c1c"/>
<path d="M351.3 99.3 L355.3 98.45 L355.3 100.15 Z" fill="#1c1c1c"/>
<text x="323.5" y="97.1" font-family="'Liberation Sans', sans-serif" font-size="8.3" fill="#2a2a2a" textLength="16.6" lengthAdjust="spacingAndGlyphs">9.25</text>
<text x="343.3" y="97" font-family="'Liberation Sans', sans-serif" font-size="5.6" fill="#2a2a2a" textLength="18.5" lengthAdjust="spacingAndGlyphs">±0.05</text>
<line x1="319" y1="113" x2="353.5" y2="113" stroke="#1c1c1c" stroke-width="0.7"/>
<path d="M325.3 113 L321.3 113.85 L321.3 112.15 Z" fill="#1c1c1c"/>
<path d="M345.7 113 L349.7 112.15 L349.7 113.85 Z" fill="#1c1c1c"/>
<text x="319.3" y="110.7" font-family="'Liberation Sans', sans-serif" font-size="8.3" fill="#2a2a2a" textLength="16.6" lengthAdjust="spacingAndGlyphs">7.05</text>
<text x="340" y="110.6" font-family="'Liberation Sans', sans-serif" font-size="5.6" fill="#2a2a2a" textLength="14" lengthAdjust="spacingAndGlyphs">±0.1</text>
<line x1="345.7" y1="113" x2="345.7" y2="144.9" stroke="#1c1c1c" stroke-width="0.7"/>
<line x1="351.3" y1="99.3" x2="351.3" y2="148.7" stroke="#1c1c1c" stroke-width="0.7"/>
<line x1="363.3" y1="80.5" x2="363.3" y2="148.7" stroke="#1c1c1c" stroke-width="0.7"/>
<path d="M328.77 135.1 A26.4 26.4 0 0 1 351.4 122.3" fill="none" stroke="#1c1c1c" stroke-width="0.7"/>
<line x1="351.4" y1="122.3" x2="359" y2="122.6" stroke="#1c1c1c" stroke-width="0.7"/>
<path d="M351.4 122.3 L354.8 121.55 L354.8 123.05 Z" fill="#1c1c1c"/>
<path d="M335.13 141.97 A11 11 0 0 1 345.7 134" fill="none" stroke="#1c1c1c" stroke-width="0.7"/>
<path d="M345.7 134 Q349 134.2 351 135.8" fill="none" stroke="#1c1c1c" stroke-width="0.7"/>
<path d="M345.7 134 L348.9 133.25 L348.9 134.75 Z" fill="#1c1c1c"/>
<path d="M362.9 116.8 A31.9 31.9 0 0 1 387.51 128.41" fill="none" stroke="#1c1c1c" stroke-width="0.7"/>
<line x1="356.3" y1="116.8" x2="362.9" y2="116.8" stroke="#1c1c1c" stroke-width="0.7"/>
<path d="M362.9 116.8 L359.5 117.55 L359.5 116.05 Z" fill="#1c1c1c"/>
<path d="M387.51 128.41 L384.99 126.01 L386.24 125.17 Z" fill="#1c1c1c"/>
<line x1="385.71" y1="126.21" x2="389.31" y2="130.61" stroke="#1c1c1c" stroke-width="0.7"/>
<line x1="329.5" y1="129.5" x2="345.5" y2="145" stroke="#1c1c1c" stroke-width="0.7"/>
<line x1="337" y1="136.6" x2="345.2" y2="144.7" stroke="#1c1c1c" stroke-width="1.8"/>
<text transform="translate(327.9 130.2) rotate(-50)" font-family="'Liberation Sans', sans-serif" font-size="8" fill="#2a2a2a" textLength="12" lengthAdjust="spacingAndGlyphs">15°</text>
<text transform="translate(337 134.4) rotate(-24)" font-family="'Liberation Sans', sans-serif" font-size="8" fill="#2a2a2a" textLength="12" lengthAdjust="spacingAndGlyphs">15°</text>
<text transform="translate(373 117) rotate(-10)" font-family="'Liberation Sans', sans-serif" font-size="7.8" fill="#2a2a2a" textLength="11.7" lengthAdjust="spacingAndGlyphs">15°</text>
<text transform="translate(339.6 120.6) rotate(-40)" font-family="'Liberation Sans', sans-serif" font-size="4.2" fill="#555" textLength="4.2" lengthAdjust="spacingAndGlyphs">±1</text>
<path d="M334.3 141.9 L335.59 138.66 L336.91 139.57 Z" fill="#1c1c1c"/>
<text x="391.5" y="134.6" font-family="'Liberation Sans', sans-serif" font-size="6.6" fill="#2a2a2a" textLength="13.2" lengthAdjust="spacingAndGlyphs">R0.4</text>
<line x1="390" y1="135.4" x2="406" y2="135.4" stroke="#1c1c1c" stroke-width="0.7"/>
<line x1="390" y1="135.4" x2="375.3" y2="164.4" stroke="#1c1c1c" stroke-width="0.7"/>
<path d="M375.3 164.4 L376.35 161.1 L377.49 161.72 Z" fill="#1c1c1c"/>
<line x1="388.2" y1="126.2" x2="370.5" y2="141.7" stroke="#1c1c1c" stroke-width="0.7"/>
<text x="288.8" y="218.8" font-family="'Liberation Sans', sans-serif" font-size="8.2" fill="#2a2a2a" textLength="12.3" lengthAdjust="spacingAndGlyphs">3.1</text>
<text x="303" y="218.8" font-family="'Liberation Sans', sans-serif" font-size="5.6" fill="#2a2a2a" textLength="14.4" lengthAdjust="spacingAndGlyphs">±0.1</text>
<line x1="287.5" y1="221.3" x2="349" y2="221.3" stroke="#1c1c1c" stroke-width="0.7"/>
<path d="M333.5 221.3 L329.5 222.15 L329.5 220.45 Z" fill="#1c1c1c"/>
<path d="M342.2 221.3 L346.2 220.45 L346.2 222.15 Z" fill="#1c1c1c"/>
<text x="288.8" y="230.3" font-family="'Liberation Sans', sans-serif" font-size="8.2" fill="#2a2a2a">6</text>
<text x="296" y="230.3" font-family="'Liberation Sans', sans-serif" font-size="5.6" fill="#2a2a2a" textLength="14.4" lengthAdjust="spacingAndGlyphs">±0.1</text>
<line x1="287.5" y1="232.2" x2="348.5" y2="232.2" stroke="#1c1c1c" stroke-width="0.7"/>
<path d="M325.3 232.2 L321.3 233.05 L321.3 231.35 Z" fill="#1c1c1c"/>
<path d="M342.2 232.2 L346.2 231.35 L346.2 233.05 Z" fill="#1c1c1c"/>
<text x="287.5" y="244" font-family="'Liberation Sans', sans-serif" font-size="8.2" fill="#2a2a2a" textLength="12.3" lengthAdjust="spacingAndGlyphs">4.8</text>
<text x="302.5" y="239.8" font-family="'Liberation Sans', sans-serif" font-size="5.5" fill="#2a2a2a" textLength="12.8" lengthAdjust="spacingAndGlyphs">+0.1</text>
<text x="305" y="246.3" font-family="'Liberation Sans', sans-serif" font-size="5.5" fill="#2a2a2a">0</text>
<line x1="287.5" y1="248.2" x2="367" y2="248.2" stroke="#1c1c1c" stroke-width="0.7"/>
<path d="M347 248.2 L343 249.05 L343 247.35 Z" fill="#1c1c1c"/>
<path d="M360.8 248.2 L364.8 247.35 L364.8 249.05 Z" fill="#1c1c1c"/>
<line x1="333.5" y1="196" x2="333.5" y2="223" stroke="#1c1c1c" stroke-width="0.7"/>
<line x1="342.2" y1="196" x2="342.2" y2="234.5" stroke="#1c1c1c" stroke-width="0.7"/>
<line x1="347" y1="192" x2="347" y2="250" stroke="#1c1c1c" stroke-width="0.7"/>
<line x1="360.8" y1="192" x2="360.8" y2="264.5" stroke="#1c1c1c" stroke-width="0.9"/>
<line x1="374.3" y1="192" x2="374.3" y2="283.5" stroke="#1c1c1c" stroke-width="0.7"/>
<line x1="379.3" y1="181" x2="379.3" y2="300" stroke="#1c1c1c" stroke-width="0.7"/>
<line x1="438.8" y1="219" x2="438.8" y2="318" stroke="#1c1c1c" stroke-width="0.7"/>
<line x1="318.9" y1="262.9" x2="367" y2="262.9" stroke="#1c1c1c" stroke-width="0.7"/>
<path d="M325 262.9 L321 263.75 L321 262.05 Z" fill="#1c1c1c"/>
<path d="M360.8 262.9 L364.8 262.05 L364.8 263.75 Z" fill="#1c1c1c"/>
<text x="327.5" y="259" font-family="'Liberation Sans', sans-serif" font-size="8.2" fill="#2a2a2a" textLength="16.4" lengthAdjust="spacingAndGlyphs">12.4</text>
<text x="346.4" y="253.5" font-family="'Liberation Sans', sans-serif" font-size="5.5" fill="#2a2a2a" textLength="12" lengthAdjust="spacingAndGlyphs">+0.1</text>
<text x="348.9" y="259.7" font-family="'Liberation Sans', sans-serif" font-size="5.5" fill="#2a2a2a">0</text>
<line x1="318.9" y1="282" x2="381.2" y2="282" stroke="#1c1c1c" stroke-width="0.7"/>
<path d="M325 282 L321 282.85 L321 281.15 Z" fill="#1c1c1c"/>
<path d="M374.3 282 L378.3 281.15 L378.3 282.85 Z" fill="#1c1c1c"/>
<text x="336.8" y="278.1" font-family="'Liberation Sans', sans-serif" font-size="8.2" fill="#2a2a2a" textLength="16.4" lengthAdjust="spacingAndGlyphs">17.4</text>
<text x="355.7" y="272.6" font-family="'Liberation Sans', sans-serif" font-size="5.5" fill="#2a2a2a" textLength="12" lengthAdjust="spacingAndGlyphs">+0.1</text>
<text x="358.2" y="278.8" font-family="'Liberation Sans', sans-serif" font-size="5.5" fill="#2a2a2a">0</text>
<line x1="318.9" y1="298.3" x2="385.8" y2="298.3" stroke="#1c1c1c" stroke-width="0.7"/>
<path d="M325 298.3 L321 299.15 L321 297.45 Z" fill="#1c1c1c"/>
<path d="M379.3 298.3 L383.3 297.45 L383.3 299.15 Z" fill="#1c1c1c"/>
<text x="345" y="294.4" font-family="'Liberation Sans', sans-serif" font-size="8.2" fill="#2a2a2a" textLength="8.2" lengthAdjust="spacingAndGlyphs">19</text>
<text x="355.7" y="288.9" font-family="'Liberation Sans', sans-serif" font-size="5.5" fill="#2a2a2a" textLength="12" lengthAdjust="spacingAndGlyphs">+0.1</text>
<text x="358.2" y="295.1" font-family="'Liberation Sans', sans-serif" font-size="5.5" fill="#2a2a2a">0</text>
<line x1="318.9" y1="315.8" x2="445.3" y2="315.8" stroke="#1c1c1c" stroke-width="0.7"/>
<path d="M325 315.8 L321 316.65 L321 314.95 Z" fill="#1c1c1c"/>
<path d="M438.8 315.8 L442.8 314.95 L442.8 316.65 Z" fill="#1c1c1c"/>
<text x="368.3" y="311.9" font-family="'Liberation Sans', sans-serif" font-size="8.2" fill="#2a2a2a" textLength="8.2" lengthAdjust="spacingAndGlyphs">40</text>
<text x="379" y="306.4" font-family="'Liberation Sans', sans-serif" font-size="5.5" fill="#2a2a2a" textLength="12" lengthAdjust="spacingAndGlyphs">+0.1</text>
<text x="381.5" y="312.6" font-family="'Liberation Sans', sans-serif" font-size="5.5" fill="#2a2a2a">0</text>
<text x="392.5" y="229.9" font-family="'Liberation Sans', sans-serif" font-size="6.9" fill="#2a2a2a" textLength="27.6" lengthAdjust="spacingAndGlyphs">R1.5 MAX</text>
<path d="M421 230.6 L384.5 230.6 L362 204.5" fill="none" stroke="#1c1c1c" stroke-width="0.7"/>
<text x="384.4" y="246.5" font-family="'Liberation Sans', sans-serif" font-size="6.9" fill="#2a2a2a" textLength="27.6" lengthAdjust="spacingAndGlyphs">R0.1 MAX</text>
<path d="M412.5 247.3 L383 247.3 L351.5 204.5" fill="none" stroke="#1c1c1c" stroke-width="0.7"/>
<text x="454.6" y="246.6" font-family="'Liberation Sans', sans-serif" font-size="6.9" fill="#2a2a2a" textLength="27.6" lengthAdjust="spacingAndGlyphs">R1.5 MAX</text>
<path d="M482.5 247.4 L446 247.4 L438.8 212.5" fill="none" stroke="#1c1c1c" stroke-width="0.7"/></svg></body></html>
